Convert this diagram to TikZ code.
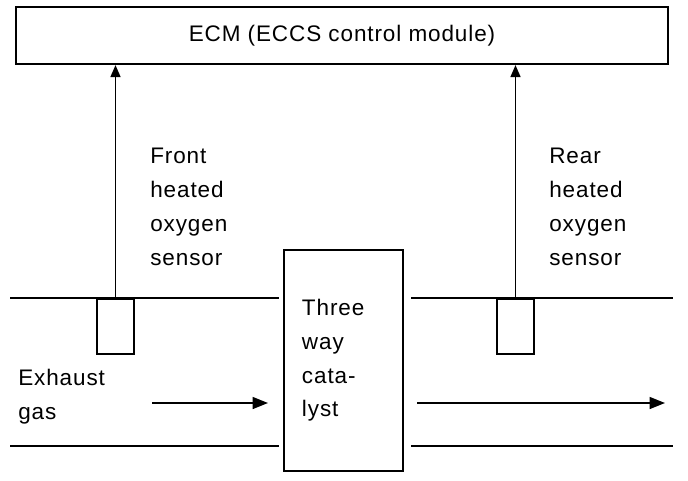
\documentclass[tikz,border=0pt]{standalone}
\usepackage{fontspec}
\setmainfont{Liberation Sans}[LetterSpace=4]
\usetikzlibrary{arrows.meta,positioning}

\tikzset{
	wall/.style={line width=1.5pt},
	sensorbox/.style={draw, line width=1.2pt, minimum width=0.925cm, minimum height=1.375cm, inner sep=0pt},
	signal/.style={line width=1.3pt, -{Triangle[length=8.5pt,width=7pt]}},
	flow/.style={line width=1.3pt, -{Triangle[length=11pt,width=8.5pt]}},
	lbl/.style={align=left, inner sep=0pt, font=\fontsize{16}{24}\selectfont}
}

\begin{document}
\begin{tikzpicture}[x=0.025cm, y=-0.025cm]
			\useasboundingbox (0,0) rectangle (688,480);
			% ECM
			\node[draw, line width=1.5pt, minimum width=16.3cm, minimum height=1.425cm, inner sep=0pt, font=\fontsize{16}{24}\selectfont] (ecm) at (342,35.5) {ECM (ECCS control module)};
			% exhaust pipe
			\draw[wall] (10,298) -- (279,298);
			\draw[wall] (411,298) -- (673,298);
			\draw[wall] (10,446) -- (279,446);
			\draw[wall] (411,446) -- (673,446);
			% catalyst
			\node[draw, line width=1.5pt, minimum width=2.975cm, minimum height=5.525cm, text width=2.075cm, inner xsep=0.45cm, align=left, font=\fontsize{16}{24}\selectfont] (catalyst) at (343.5,360.5) {Three\\way\\cata-\\lyst};
			% sensors
			\node[sensorbox, anchor=north] (frontsensor) at (115.5,298) {};
			\node[sensorbox, anchor=north] (rearsensor) at (515.5,298) {};
			\draw[signal] (frontsensor.north) -- (frontsensor.north |- ecm.south);
			\draw[signal] (rearsensor.north) -- (rearsensor.north |- ecm.south);
			\node[lbl, anchor=north west] (frontlbl) at (150,148) {Front\\heated\\oxygen\\sensor};
			\node[lbl, anchor=north west] (rearlbl) at (549,148) {Rear\\heated\\oxygen\\sensor};
			% gas flow
			\node[lbl, anchor=north west] (gas) at (18,369) {Exhaust\\gas};
			\coordinate (flowa) at (152,403);
			\coordinate (flowaend) at (268,403);
			\coordinate (flowb) at (417,403);
			\coordinate (flowc) at (665,403);
			\draw[flow] (flowa) -- (flowaend);
			\draw[flow] (flowb) -- (flowc);
		\end{tikzpicture}
\end{document}
